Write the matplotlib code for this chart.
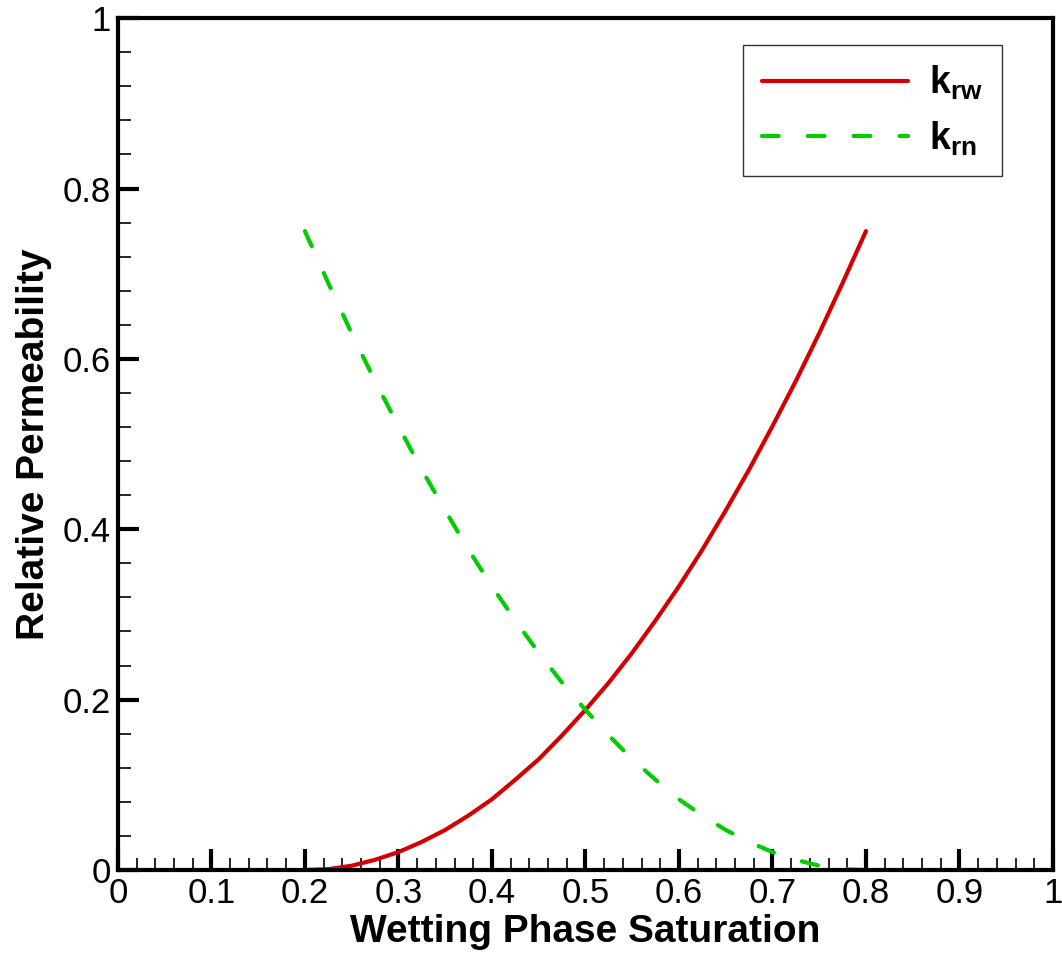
import matplotlib.pyplot as plt
from matplotlib.ticker import MultipleLocator

plt.rcParams['font.family'] = ['Liberation Sans', 'DejaVu Sans']
plt.rcParams['mathtext.fontset'] = 'custom'
plt.rcParams['mathtext.bf'] = 'Liberation Sans:bold'
plt.rcParams['mathtext.rm'] = 'Liberation Sans'

# values
sw = [0.200, 0.225, 0.250, 0.275, 0.300, 0.325, 0.350, 0.375, 0.400, 0.425,
      0.450, 0.475, 0.500, 0.525, 0.550, 0.575, 0.600, 0.625, 0.650, 0.675,
      0.700, 0.725, 0.750, 0.775, 0.800]
krw = [0.0, 0.001, 0.005, 0.012, 0.021, 0.033, 0.047, 0.064, 0.083, 0.106,
       0.130, 0.158, 0.188, 0.220, 0.255, 0.293, 0.333, 0.376, 0.422, 0.470,
       0.521, 0.574, 0.630, 0.689, 0.750]
krn = krw[::-1]

fig = plt.figure(figsize=(10.62, 9.55), dpi=100)
ax = fig.add_axes([0.111, 0.089, 0.8805, 0.892])

ax.plot(sw, krw, color='#d40000', lw=3, solid_capstyle='round', label=r'$\mathbf{k_{rw}}$')
ax.plot(sw, krn, color='#00cc00', lw=3, dashes=(4, 7), dash_capstyle='round',
        label=r'$\mathbf{k_{rn}}$')

ax.set_xlim(0, 1)
ax.set_ylim(0, 1)
ax.xaxis.set_major_locator(MultipleLocator(0.1))
ax.xaxis.set_minor_locator(MultipleLocator(0.02))
ax.yaxis.set_major_locator(MultipleLocator(0.2))
ax.yaxis.set_minor_locator(MultipleLocator(0.04))
ax.xaxis.set_major_formatter(plt.FuncFormatter(lambda v, p: '%g' % round(v, 2)))
ax.yaxis.set_major_formatter(plt.FuncFormatter(lambda v, p: '%g' % round(v, 2)))

ax.tick_params(which='major', direction='in', length=15, width=3, labelsize=25, pad=5)
ax.tick_params(which='minor', direction='in', length=9, width=1.2)
for s in ax.spines.values():
    s.set_linewidth(3)

ax.set_xlabel('Wetting Phase Saturation', fontsize=28, fontweight='bold', labelpad=3)
ax.set_ylabel('Relative Permeability', fontsize=28, fontweight='bold', labelpad=8)

leg = ax.legend(loc='upper right', bbox_to_anchor=(0.945, 0.968), borderaxespad=0,
                fontsize=27, fancybox=False, framealpha=1, edgecolor='#333333',
                handlelength=3.9, borderpad=0.5, labelspacing=0.45, handletextpad=0.55)
leg.get_frame().set_linewidth(1)

fig.savefig('out.png', dpi=100)
